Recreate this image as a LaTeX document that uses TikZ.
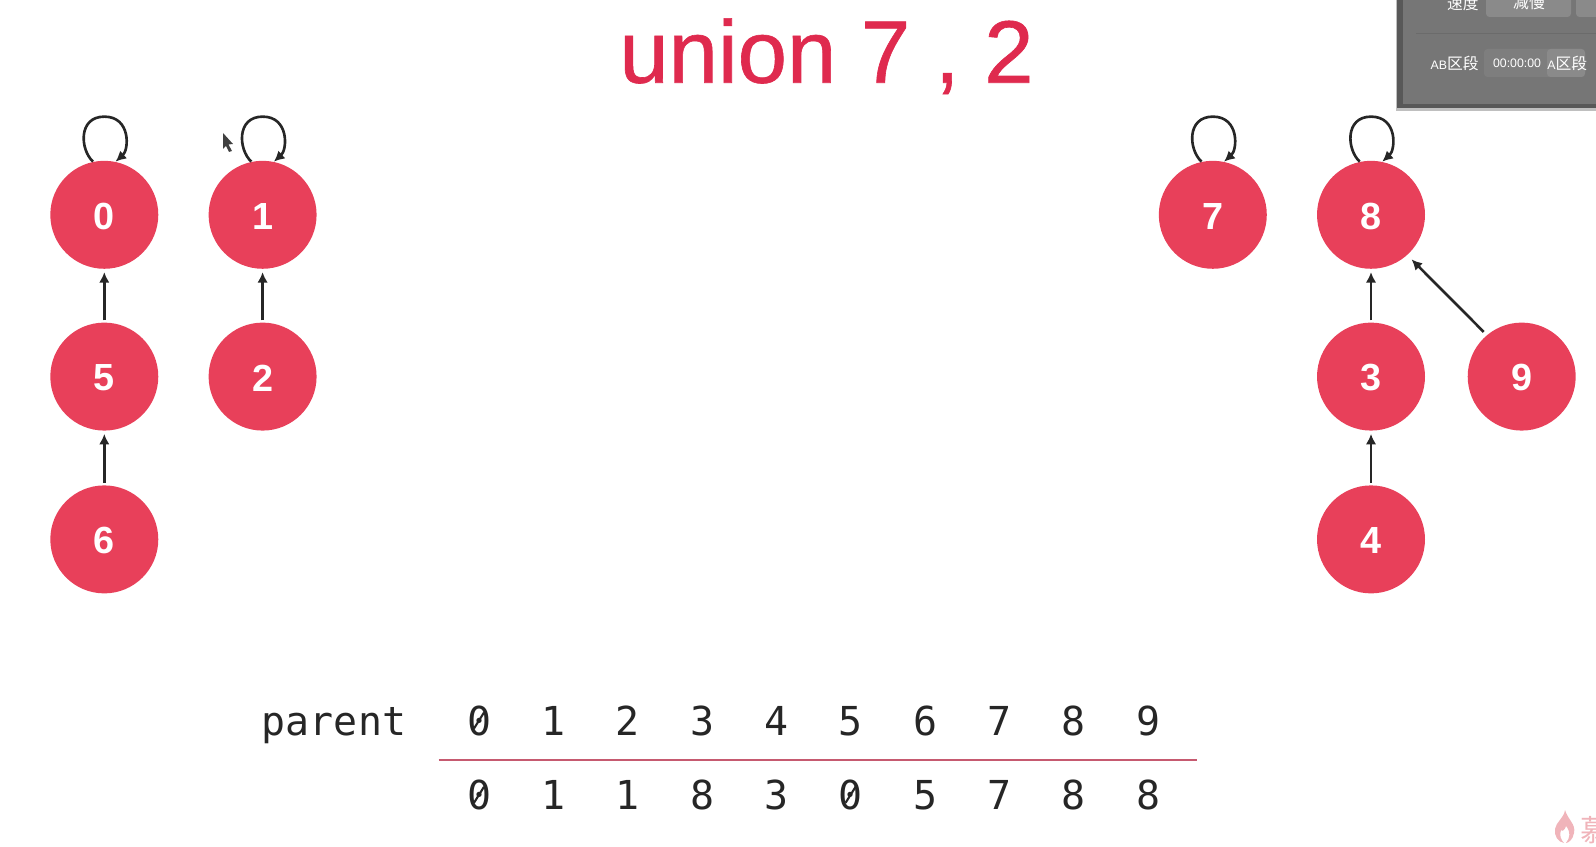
\documentclass[tikz,border=0pt]{standalone}
\usepackage{fontspec}
\setmainfont{Liberation Sans}
\setmonofont{DejaVu Sans Mono}
\newfontfamily\cjkfont{Noto Sans CJK SC}
\newfontfamily\titlefont[RawFeature={embolden=0.7}]{Liberation Sans}
\usetikzlibrary{arrows.meta}
\definecolor{nodered}{HTML}{E8405A}
\definecolor{titlered}{HTML}{DF2A4E}
\definecolor{rulered}{HTML}{C65A70}
\definecolor{panelgray}{HTML}{767676}
\definecolor{paneledge}{HTML}{585858}
\definecolor{panelbtn}{HTML}{8A8A8A}
\definecolor{panelfield}{HTML}{7E7E7E}
\definecolor{flamepink}{HTML}{F0B4BA}

\begin{document}
\begin{tikzpicture}[
  x=0.02cm, y=-0.02cm,
  font=\sffamily,
  set/.style={circle, fill=nodered, text=white, minimum size=2.16cm, inner sep=0pt,
    text height=16.5pt, font=\rmfamily\bfseries\fontsize{21.5}{21.5}\selectfont},
  arrow/.style={-{Latex[length=6pt,width=6pt]}, line width=1.5pt, black!85,
    shorten >=1.7pt, shorten <=1.1pt},
  selfloop/.style={-{Latex[length=6pt,width=6pt]}, line width=1.5pt, black!85},
  cell/.style={font=\ttfamily\fontsize{22.7}{22.7}\selectfont, text=black!85, anchor=base, inner sep=0pt},
  zeroslash/.style={line width=1.2pt, black!85},
  paneltext/.style={font=\rmfamily\fontsize{7}{7}\selectfont, text=white, inner sep=0pt},
  panelcjk/.style={font=\cjkfont\fontsize{9}{9}\selectfont, text=white, inner sep=0pt}
]
\useasboundingbox (0,0) rectangle (1596,847);

\node[font=\titlefont\fontsize{50.5}{50.5}\selectfont, text=titlered, anchor=base, inner sep=0pt] (title)
  at (826.5,82.7) {union 7 , 2};

% Trees
\node[set] (n0) at (104.3,214.8) {0};
\node[set] (n1) at (262.6,214.8) {1};
\node[set] (n5) at (104.3,376.6) {5};
\node[set] (n2) at (262.6,376.6) {2};
\node[set] (n6) at (104.3,539.4) {6};
\node[set] (n7) at (1212.8,214.8) {7};
\node[set] (n8) at (1371,214.8) {8};
\node[set] (n3) at (1371,376.6) {3};
\node[set] (n9) at (1521.7,376.6) {9};
\node[set] (n4) at (1371,539.4) {4};

% Arrows
\draw[arrow] (n5) -- (n0);
\draw[arrow] (n6) -- (n5);
\draw[arrow] (n2) -- (n1);
\draw[arrow] (n3) -- (n8);
\draw[arrow] (n4) -- (n3);
\draw[arrow, shorten >=3.4pt, shorten <=2.5pt] (n9.130) -- (n8.-48);
\draw[selfloop] (n0.102) .. controls +(-13,-12) and +(-26.5,0) .. +(11.4,-45)
  .. controls +(26.5,0) and +(13.5,-12) .. (n0.78);
\draw[selfloop] (n1.102) .. controls +(-13,-12) and +(-26.5,0) .. +(11.4,-45)
  .. controls +(26.5,0) and +(13.5,-12) .. (n1.78);
\draw[selfloop] (n7.102) .. controls +(-13,-12) and +(-26.5,0) .. +(11.4,-45)
  .. controls +(26.5,0) and +(13.5,-12) .. (n7.78);
\draw[selfloop] (n8.102) .. controls +(-13,-12) and +(-26.5,0) .. +(11.4,-45)
  .. controls +(26.5,0) and +(13.5,-12) .. (n8.78);

% Array
\node[cell] (label) at (334,735) {parent};
\node[cell] (top0) at (479,735) {0};
\node[cell] (top1) at (553.3,735) {1};
\node[cell] (top2) at (627.6,735) {2};
\node[cell] (top3) at (702,735) {3};
\node[cell] (top4) at (776.3,735) {4};
\node[cell] (top5) at (850.6,735) {5};
\node[cell] (top6) at (925,735) {6};
\node[cell] (top7) at (999.3,735) {7};
\node[cell] (top8) at (1073.6,735) {8};
\node[cell] (top9) at (1148,735) {9};
\draw[rulered, line width=1.6pt] (438.7,760) -- (1197,760);
\node[cell] (val0) at (479,809.3) {0};
\node[cell] (val1) at (553.3,809.3) {1};
\node[cell] (val2) at (627.6,809.3) {1};
\node[cell] (val3) at (702,809.3) {8};
\node[cell] (val4) at (776.3,809.3) {3};
\node[cell] (val5) at (850.6,809.3) {0};
\node[cell] (val6) at (925,809.3) {5};
\node[cell] (val7) at (999.3,809.3) {7};
\node[cell] (val8) at (1073.6,809.3) {8};
\node[cell] (val9) at (1148,809.3) {8};
\draw[zeroslash] ([shift={(-5,8)}]top0.center) -- ([shift={(5,-8)}]top0.center);
\draw[zeroslash] ([shift={(-5,8)}]val0.center) -- ([shift={(5,-8)}]val0.center);
\draw[zeroslash] ([shift={(-5,8)}]val5.center) -- ([shift={(5,-8)}]val5.center);

% Player panel and marks of the screenshot
\begin{scope}
\clip (0,0) rectangle (1596,847);
\fill[black!25] (1396,0) rectangle (1596,111);
\fill[paneledge] (1397,0) rectangle (1596,108);
\fill[panelgray] (1403,0) rectangle (1596,104);
\fill[panelbtn, rounded corners=2pt] (1486,-6) rectangle (1571,17);
\fill[panelbtn, rounded corners=2pt] (1576,-6) rectangle (1610,17);
\draw[black!58, line width=0.3pt] (1416,33) -- (1596,33);
\fill[panelfield, rounded corners=2pt] (1484,49) rectangle (1585,77);
\fill[panelbtn, rounded corners=2pt] (1547,49) rectangle (1585,77);
\node[panelcjk, anchor=east] (speed) at (1479,3) {速度};
\node[panelcjk] (slower) at (1529,3) {减慢};
\node[panelcjk, anchor=east] (abseg) at (1479,63) {\rmfamily\fontsize{7}{7}\selectfont AB\cjkfont\fontsize{9}{9}\selectfont 区段};
\node[paneltext] (time) at (1517,63) {00:00:00};
\node[panelcjk, anchor=west] (aseg) at (1547,63) {\rmfamily\fontsize{7}{7}\selectfont A\cjkfont\fontsize{9}{9}\selectfont 区段};
\fill[black!75] (223,133) -- (233,144) -- (228.5,144.5) -- (232,151) -- (229,152) -- (226,146) -- (223,149) -- cycle;
\fill[flamepink] (1565,810) .. controls (1568,820) and (1576,824) .. (1574,833)
  .. controls (1573,840) and (1568,843) .. (1566,843)
  .. controls (1570,838) and (1571,832) .. (1566,826)
  .. controls (1565,830) and (1562,832) .. (1561,830)
  .. controls (1559,835) and (1561,840) .. (1564,843)
  .. controls (1558,842) and (1554,836) .. (1555,829)
  .. controls (1556,822) and (1564,818) .. (1565,810) -- cycle;
\node[font=\cjkfont\fontsize{17}{17}\selectfont, text=flamepink, anchor=west, inner sep=0pt] (brand) at (1580,830) {慕};
\end{scope}
\end{tikzpicture}
\end{document}
